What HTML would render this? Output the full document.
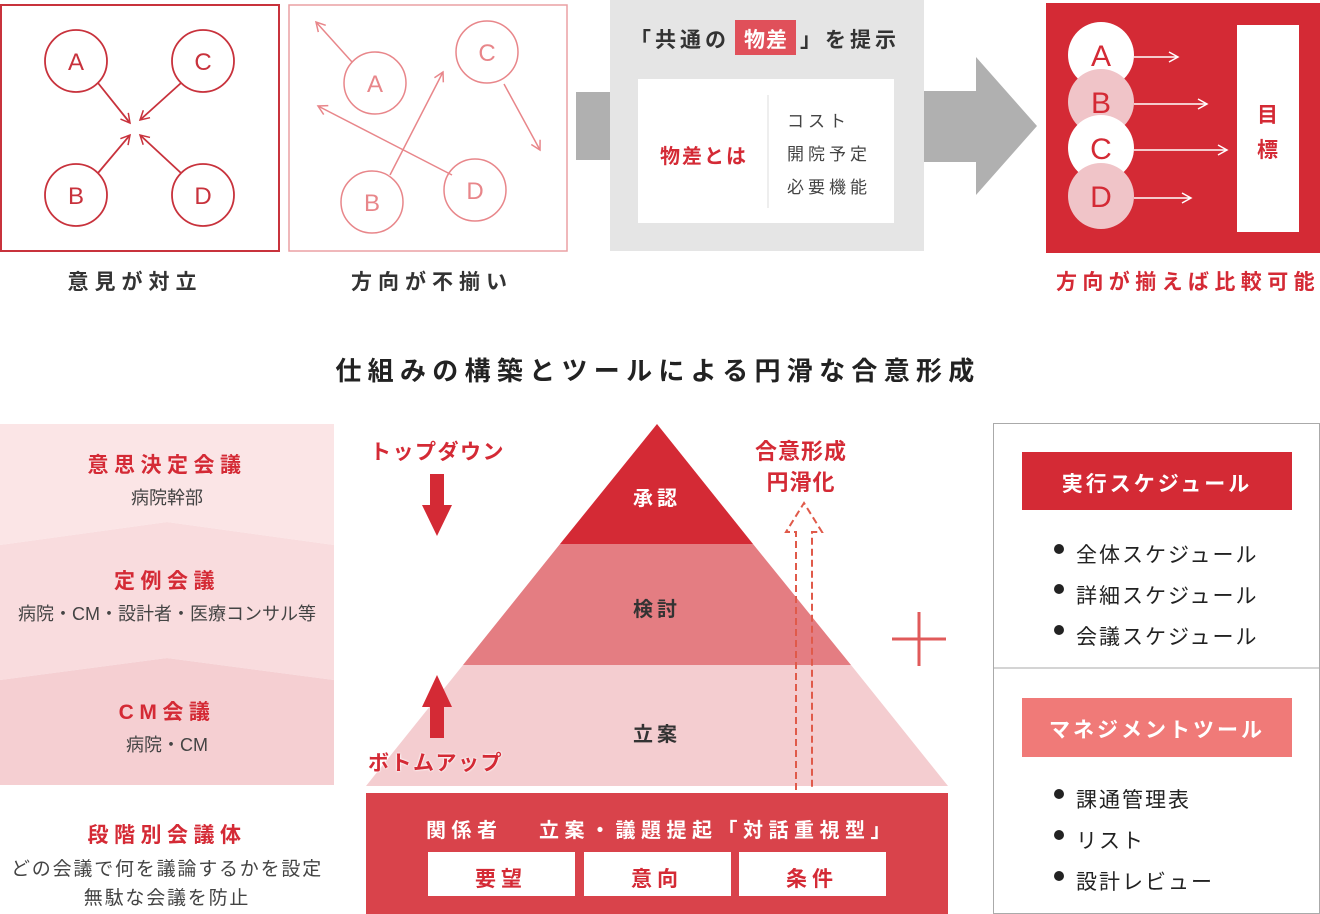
<!DOCTYPE html>
<html><head><meta charset="utf-8"><style>
body{margin:0;width:1320px;height:914px;position:relative;background:#fff;overflow:hidden;font-family:"Liberation Sans","Noto Sans CJK JP",sans-serif;}
.a{position:absolute;white-space:nowrap;}
.c{transform:translateX(-50%);text-align:center;}
.b{font-weight:bold;}
</style></head><body>
<svg class="a" style="left:0;top:0" width="1320" height="914" viewBox="0 0 1320 914">
<defs>
<marker id="m1" markerWidth="12" markerHeight="12" refX="10" refY="6" orient="auto" markerUnits="userSpaceOnUse"><path d="M1,1 L10,6 L1,11" fill="none" stroke="#c8323c" stroke-width="1.5"/></marker>
<marker id="m2" markerWidth="12" markerHeight="12" refX="10" refY="6" orient="auto" markerUnits="userSpaceOnUse"><path d="M1,1 L10,6 L1,11" fill="none" stroke="#e8868a" stroke-width="1.5"/></marker>
<marker id="m3" markerWidth="12" markerHeight="12" refX="10" refY="6" orient="auto" markerUnits="userSpaceOnUse"><path d="M1,1 L10,6 L1,11" fill="none" stroke="#fff" stroke-width="1.5"/></marker>
</defs>
<rect x="1" y="5" width="278" height="246" fill="none" stroke="#c8323c" stroke-width="2"/>
<g fill="none" stroke="#c8323c" stroke-width="1.8">
<circle cx="76" cy="61" r="31"/><circle cx="203" cy="61" r="31"/><circle cx="76" cy="195" r="31"/><circle cx="203" cy="195" r="31"/>
<line x1="98" y1="83" x2="130" y2="123" marker-end="url(#m1)"/>
<line x1="181" y1="83" x2="140" y2="120" marker-end="url(#m1)"/>
<line x1="98" y1="173" x2="130" y2="135" marker-end="url(#m1)"/>
<line x1="181" y1="173" x2="140" y2="135" marker-end="url(#m1)"/>
</g>
<g font-size="24" fill="#c8323c" text-anchor="middle" font-family="Liberation Sans,sans-serif">
<text x="76" y="70">A</text><text x="203" y="70">C</text><text x="76" y="204">B</text><text x="203" y="204">D</text></g>
<rect x="289" y="5" width="278" height="246" fill="none" stroke="#eaa0a4" stroke-width="1.5"/>
<g fill="none" stroke="#e8868a" stroke-width="1.5">
<circle cx="375" cy="83" r="31"/><circle cx="487" cy="52" r="31"/><circle cx="372" cy="202" r="31"/><circle cx="475" cy="190" r="31"/>
<line x1="352" y1="62" x2="316" y2="22" marker-end="url(#m2)"/>
<line x1="452" y1="175" x2="318" y2="106" marker-end="url(#m2)"/>
<line x1="390" y1="175" x2="443" y2="72" marker-end="url(#m2)"/>
<line x1="504" y1="84" x2="540" y2="150" marker-end="url(#m2)"/>
</g>
<g font-size="24" fill="#e8868a" text-anchor="middle" font-family="Liberation Sans,sans-serif">
<text x="375" y="92">A</text><text x="487" y="61">C</text><text x="372" y="211">B</text><text x="475" y="199">D</text></g>
<rect x="576" y="92" width="34" height="68" fill="#b0b0b0"/>
<rect x="610" y="0" width="314" height="251" fill="#e5e5e5"/>
<rect x="638" y="79" width="256" height="144" fill="#fff"/>
<line x1="768" y1="95" x2="768" y2="208" stroke="#ddd" stroke-width="1"/>
<rect x="735" y="20" width="61" height="35" fill="#e0505a"/>
<path d="M924,91 H976 V57 L1037,126 L976,195 V162 H924 Z" fill="#b0b0b0"/>
<rect x="1046" y="3" width="274" height="250" fill="#d42a35"/>
<circle cx="1101" cy="55" r="33" fill="#fff"/>
<circle cx="1101" cy="102" r="33" fill="#f0c4c8"/>
<circle cx="1101" cy="148" r="33" fill="#fff"/>
<circle cx="1101" cy="196" r="33" fill="#f0c4c8"/>
<g font-size="30" fill="#d42a35" text-anchor="middle" font-family="Liberation Sans,sans-serif">
<text x="1101" y="66">A</text><text x="1101" y="113">B</text><text x="1101" y="159">C</text><text x="1101" y="207">D</text></g>
<g stroke="#fff" stroke-width="1.5">
<line x1="1134" y1="57" x2="1178" y2="57" marker-end="url(#m3)"/>
<line x1="1134" y1="104" x2="1207" y2="104" marker-end="url(#m3)"/>
<line x1="1134" y1="150" x2="1227" y2="150" marker-end="url(#m3)"/>
<line x1="1134" y1="198" x2="1191" y2="198" marker-end="url(#m3)"/>
</g>
<rect x="1237" y="25" width="62" height="207" fill="#fff"/>
<path d="M0,424 H334 V545 L167,522 L0,545 Z" fill="#fbe5e6"/>
<path d="M0,545 L167,522 L334,545 V680 L167,658 L0,680 Z" fill="#f9dcde"/>
<path d="M0,680 L167,658 L334,680 V785 H0 Z" fill="#f5cfd2"/>
<path d="M366,786 L463,665 L851,665 L948,786 Z" fill="#f4cdd0"/>
<path d="M463,665 L560,544 L753,544 L851,665 Z" fill="#e47d82"/>
<path d="M560,544 L657,424 L753,544 Z" fill="#d42a35"/>
<rect x="366" y="793" width="582" height="121" fill="#d9434b"/>
<rect x="428" y="852" width="147" height="44" fill="#fff"/>
<rect x="584" y="852" width="147" height="44" fill="#fff"/>
<rect x="739" y="852" width="147" height="44" fill="#fff"/>
<path d="M430,474 H444 V505 H452 L437,536 L422,505 H430 Z" fill="#d42a35"/>
<path d="M430,738 H444 V707 H452 L437,675 L422,707 H430 Z" fill="#d42a35"/>
<path d="M796,790 V532 H786 L804,503 L822,532 H812 V790" fill="none" stroke="#e05a4a" stroke-width="2" stroke-dasharray="7,4"/>
<g stroke="#e05a5a" stroke-width="3"><line x1="892" y1="639" x2="946" y2="639"/><line x1="919" y1="612" x2="919" y2="666"/></g>
<rect x="993.5" y="423.5" width="326" height="490" fill="none" stroke="#aaa" stroke-width="1"/>
<line x1="993" y1="668" x2="1320" y2="668" stroke="#aaa"/>
<rect x="1022" y="452" width="270" height="58" fill="#d42a35"/>
<rect x="1022" y="698" width="270" height="59" fill="#f07a78"/>
<g fill="#222"><circle cx="1059" cy="549" r="5"/><circle cx="1059" cy="589" r="5"/><circle cx="1059" cy="630" r="5"/><circle cx="1059" cy="794" r="5"/><circle cx="1059" cy="835" r="5"/><circle cx="1059" cy="876" r="5"/></g>
</svg>

<div class="a c b" style="left:135px;top:266px;font-size:21px;letter-spacing:6px;color:#333">意見が対立</div>
<div class="a c b" style="left:432px;top:266px;font-size:21px;letter-spacing:6px;color:#333">方向が不揃い</div>
<div class="a b" style="left:630px;top:24px;font-size:21px;letter-spacing:4px;color:#333">「共通の</div>
<div class="a c b" style="left:766px;top:24px;font-size:21px;letter-spacing:1px;color:#fff">物差</div>
<div class="a b" style="left:800px;top:24px;font-size:21px;letter-spacing:4px;color:#333">」を提示</div>
<div class="a b" style="left:660px;top:140px;font-size:20px;letter-spacing:2px;color:#d42a35">物差とは</div>
<div class="a" style="left:787px;top:105px;font-size:17px;letter-spacing:4px;color:#444;line-height:33px">コスト<br>開院予定<br>必要機能</div>
<div class="a b" style="left:1257px;top:98px;font-size:21px;line-height:35px;color:#d42a35">目<br>標</div>
<div class="a b" style="left:1056px;top:266px;font-size:21px;letter-spacing:5.4px;color:#d42a35">方向が揃えば比較可能</div>

<div class="a c b" style="left:658px;top:351px;font-size:26px;letter-spacing:6.3px;color:#222">仕組みの構築とツールによる円滑な合意形成</div>

<div class="a c b" style="left:167px;top:449px;font-size:21px;letter-spacing:5.5px;color:#d42a35">意思決定会議</div>
<div class="a c" style="left:167px;top:484px;font-size:18px;color:#444">病院幹部</div>
<div class="a c b" style="left:167px;top:565px;font-size:21px;letter-spacing:5.5px;color:#d42a35">定例会議</div>
<div class="a c" style="left:167px;top:600px;font-size:18px;color:#444">病院・CM・設計者・医療コンサル等</div>
<div class="a c b" style="left:167px;top:696px;font-size:21px;letter-spacing:5.5px;color:#d42a35">CM会議</div>
<div class="a c" style="left:167px;top:731px;font-size:18px;color:#444">病院・CM</div>
<div class="a c b" style="left:167px;top:819px;font-size:21px;letter-spacing:5.5px;color:#d42a35">段階別会議体</div>
<div class="a c" style="left:167px;top:855px;font-size:19px;line-height:29px;letter-spacing:1.8px;color:#444">どの会議で何を議論するかを設定<br>無駄な会議を防止</div>

<div class="a b" style="left:370px;top:436px;font-size:21px;letter-spacing:1.5px;color:#d42a35">トップダウン</div>
<div class="a b" style="left:368px;top:747px;font-size:21px;letter-spacing:1.5px;color:#d42a35;text-shadow:0 0 2px #fff,0 0 2px #fff">ボトムアップ</div>
<div class="a c b" style="left:801px;top:436px;font-size:22px;line-height:31px;letter-spacing:1px;color:#d42a35">合意形成<br>円滑化</div>
<div class="a c b" style="left:657px;top:482px;font-size:20px;letter-spacing:4px;color:#fff">承認</div>
<div class="a c b" style="left:657px;top:593px;font-size:20px;letter-spacing:4px;color:#333">検討</div>
<div class="a c b" style="left:657px;top:718px;font-size:20px;letter-spacing:4px;color:#333">立案</div>
<div class="a b" style="left:426px;top:814px;font-size:20px;letter-spacing:5.5px;color:#fff">関係者　 立案・議題提起「対話重視型」</div>
<div class="a c b" style="left:501px;top:863px;font-size:21px;letter-spacing:5px;color:#d42a35">要望</div>
<div class="a c b" style="left:657px;top:863px;font-size:21px;letter-spacing:5px;color:#d42a35">意向</div>
<div class="a c b" style="left:812px;top:863px;font-size:21px;letter-spacing:5px;color:#d42a35">条件</div>

<div class="a c b" style="left:1157px;top:468px;font-size:21px;letter-spacing:3px;color:#fff">実行スケジュール</div>
<div class="a c b" style="left:1157px;top:714px;font-size:21px;letter-spacing:3px;color:#fff">マネジメントツール</div>
<div class="a" style="left:1076px;top:535px;font-size:21px;line-height:41px;letter-spacing:2px;color:#222">全体スケジュール<br>詳細スケジュール<br>会議スケジュール</div>
<div class="a" style="left:1076px;top:780px;font-size:21px;line-height:41px;letter-spacing:2px;color:#222">課通管理表<br>リスト<br>設計レビュー</div>
</body></html>
